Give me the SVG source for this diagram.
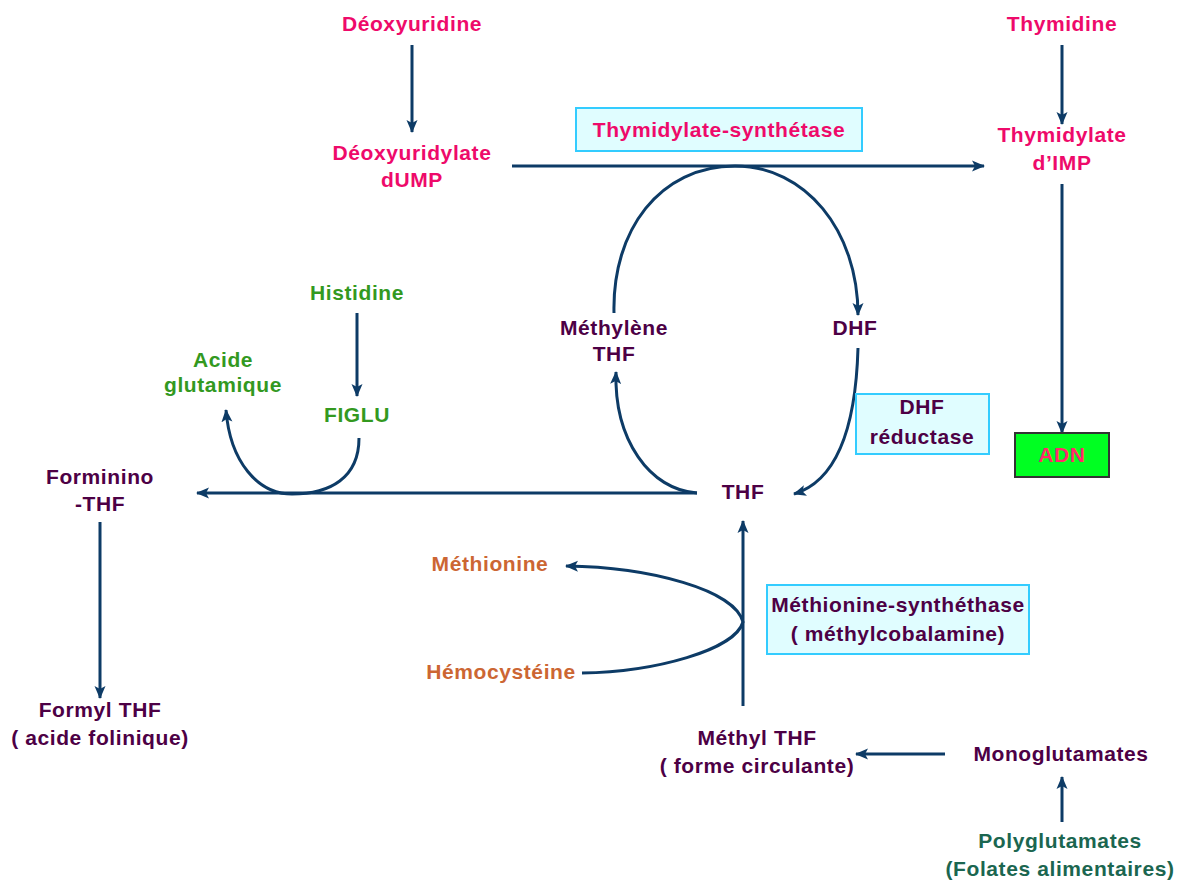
<svg xmlns="http://www.w3.org/2000/svg" width="1184" height="885" viewBox="0 0 1184 885">
<defs>
<marker id="ah" markerUnits="userSpaceOnUse" markerWidth="14" markerHeight="14" viewBox="0 0 14 14" refX="12" refY="7" orient="auto">
<path d="M0,1.5 L13,7 L0,12.5 L3,7 Z" fill="#0d3b66"/>
</marker>
</defs>
<style>
text{font-family:"Liberation Sans",Arial,sans-serif;font-weight:bold;font-size:21px;letter-spacing:0.6px;text-anchor:middle}
.pk{fill:#ee0a6a}
.pu{fill:#4d0045}
.gr{fill:#33991f}
.dg{fill:#1b6650}
.or{fill:#cc6633}
.box{fill:#e0fdff;stroke:#33ccff;stroke-width:2}
.ln{fill:none;stroke:#0d3b66;stroke-width:3}
.ar{marker-end:url(#ah)}
</style>
<rect width="1184" height="885" fill="#ffffff"/>
<g id="connectors">
<line class="ln ar" x1="412" y1="45" x2="412" y2="132"/>
<line class="ln ar" x1="1062" y1="45" x2="1062" y2="124"/>
<line class="ln ar" x1="512" y1="166" x2="984" y2="166"/>
<line class="ln ar" x1="1062" y1="184" x2="1062" y2="433"/>
<path class="ln ar" d="M614 313 C612 230 660 166 735 166 C805 166 858 230 858 315"/>
<path class="ln ar" d="M697 493 C650 490 614 440 616 372"/>
<path class="ln ar" d="M858 348 C856 420 840 480 794 494"/>
<line class="ln ar" x1="697" y1="493" x2="197" y2="493"/>
<line class="ln ar" x1="357" y1="313" x2="357" y2="396"/>
<path class="ln ar" d="M359 438 C359 478 330 494 292 494 C258 494 230 462 226 410"/>
<line class="ln ar" x1="100" y1="522" x2="100" y2="698"/>
<line class="ln ar" x1="743" y1="706" x2="743" y2="521"/>
<path class="ln ar" d="M582 673 C655 672 735 650 743 622 C735 590 650 567 566 566"/>
<line class="ln ar" x1="945" y1="754" x2="856" y2="754"/>
<line class="ln ar" x1="1062" y1="822" x2="1062" y2="777"/>
</g>
<g id="deoxyuridine"><text class="pk" x="412" y="31">Déoxyuridine</text></g>
<g id="dump"><text class="pk" x="412" y="160">Déoxyuridylate</text><text class="pk" x="412" y="187">dUMP</text></g>
<g id="thymidylate-synthetase"><rect class="box" x="576" y="108" width="286" height="43"/><text class="pk" x="719" y="137">Thymidylate-synthétase</text></g>
<g id="thymidine"><text class="pk" x="1062" y="31">Thymidine</text></g>
<g id="thymidylate"><text class="pk" x="1062" y="142">Thymidylate</text><text class="pk" x="1062" y="170">d’IMP</text></g>
<g id="adn"><rect x="1015" y="433" width="94" height="44" fill="#00ff22" stroke="#333333" stroke-width="2"/><text x="1062" y="462" fill="#ff2a6a">ADN</text></g>
<g id="histidine"><text class="gr" x="357" y="300">Histidine</text></g>
<g id="figlu"><text class="gr" x="357" y="422">FIGLU</text></g>
<g id="acide-glutamique"><text class="gr" x="223" y="367">Acide</text><text class="gr" x="223" y="392">glutamique</text></g>
<g id="methylene-thf"><text class="pu" x="614" y="335">Méthylène</text><text class="pu" x="614" y="361">THF</text></g>
<g id="dhf"><text class="pu" x="855" y="335">DHF</text></g>
<g id="dhf-reductase"><rect class="box" x="856" y="394" width="133" height="60"/><text class="pu" x="922" y="414">DHF</text><text class="pu" x="922" y="444">réductase</text></g>
<g id="thf"><text class="pu" x="743" y="499">THF</text></g>
<g id="forminino-thf"><text class="pu" x="100" y="484">Forminino</text><text class="pu" x="100" y="511">-THF</text></g>
<g id="formyl-thf"><text class="pu" x="100" y="717">Formyl THF</text><text class="pu" x="100" y="745">( acide folinique)</text></g>
<g id="methionine"><text class="or" x="490" y="571">Méthionine</text></g>
<g id="hemocysteine"><text class="or" x="501" y="679">Hémocystéine</text></g>
<g id="methionine-synthethase"><rect class="box" x="767" y="585" width="262" height="69"/><text class="pu" x="898" y="612">Méthionine-synthéthase</text><text class="pu" x="898" y="641">( méthylcobalamine)</text></g>
<g id="methyl-thf"><text class="pu" x="757" y="745">Méthyl THF</text><text class="pu" x="757" y="773">( forme circulante)</text></g>
<g id="monoglutamates"><text class="pu" x="1061" y="761">Monoglutamates</text></g>
<g id="polyglutamates"><text class="dg" x="1060" y="848">Polyglutamates</text><text class="dg" x="1060" y="876">(Folates alimentaires)</text></g>
</svg>
